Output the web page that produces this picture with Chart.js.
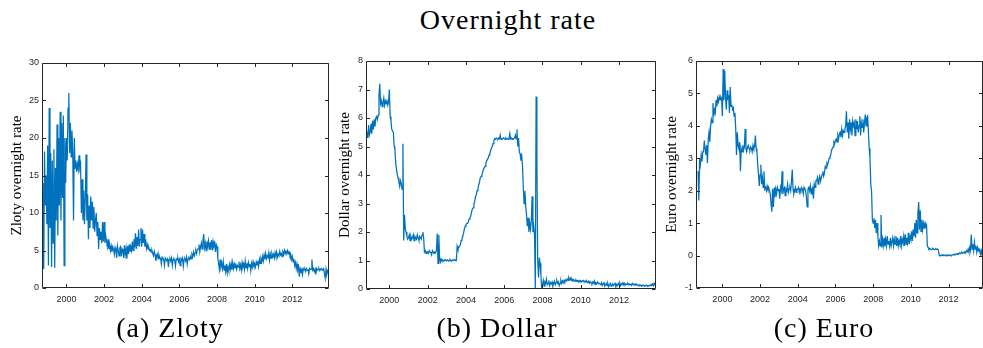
<!DOCTYPE html>
<html>
<head>
<meta charset="utf-8">
<script src="https://cdn.jsdelivr.net/npm/chart.js@4.4.1/dist/chart.umd.min.js"></script>
<style>
  html, body { margin: 0; padding: 0; background: #ffffff; }
  body { width: 983px; height: 348px; position: relative; overflow: hidden; }
  .panel { position: absolute; top: 40px; height: 275px; }
  .txt { position: absolute; font-family: "Liberation Serif", "Times New Roman", serif; font-size: 28px;
         line-height: 26px; color: #000; white-space: nowrap; transform: translateX(-50%); letter-spacing: 1px; }
</style>
</head>
<body>
<div class="txt" style="left:508px; top:7px;">Overnight rate</div>
<div class="panel" style="left:0px; width:329px;"><canvas id="c1" width="329" height="275"></canvas></div>
<div class="panel" style="left:324px; width:332px;"><canvas id="c2" width="332" height="275"></canvas></div>
<div class="panel" style="left:654px; width:329px;"><canvas id="c3" width="329" height="275"></canvas></div>
<div class="txt" style="left:170px; top:315px;">(a) Zloty</div>
<div class="txt" style="left:497px; top:315px;">(b) Dollar</div>
<div class="txt" style="left:824px; top:315px;">(c) Euro</div>

<script>
// Semi-monthly observations starting in the second half of September 1998.
const START_YEAR = 1998 + 17 / 24;
const STEP = 1 / 24;

// Tick labels on the time axis.
const yearTicks = [2000, 2002, 2004, 2006, 2008, 2010, 2012];

// Polish zloty overnight rate (%)
const zloty = [
  14, 7.5, 2.5, 18.2, 11, 15, 8.5,
  19, 3, 24, 8, 18, 2.8, 17, 6, 18.5, 2.7, 16, 9, 21.8, 7, 20, 11, 23.5, 9, 22, 12, 23, 3, 20, 14,
  20, 17, 24, 26, 18, 22, 17.5, 21, 18, 9, 20, 16, 17, 15.5, 16.5, 15.8, 17.7, 16, 16.5, 10, 14.5, 9, 13, 8.5,
  12, 17.8, 9, 12.5, 6.5, 11, 8, 12.2, 9, 11.5, 8, 10.8, 7.5, 9, 10, 7, 8.8, 5.2, 8, 6.5, 7.5, 6, 8.8, 6.2,
  8.8, 6, 7, 6.3, 5.5, 6.5, 5.2, 5.8, 5, 5.6, 4.8, 5.5, 5.2, 4.5, 5.4, 5, 4, 5.6, 5, 4.3, 5.3, 5.5, 4.2, 5.2,
  5, 4, 5.7, 4.5, 5.3, 3.9, 5.6, 4.5, 5.8, 4.8, 5.5, 5, 6.2, 5, 6.5, 5.4, 7.3, 5.2, 6.8, 5.6, 7.8, 5.5, 6.5, 8,
  5.5, 7.8, 6, 7.2, 5.5, 6.5, 5.3, 5.8, 5.2, 5.4, 5, 5.1, 4.8, 5, 4.6, 4.3, 4.9, 4.5, 3.6, 4.2, 4.5, 3.9, 4.4, 4,
  4, 3.2, 4.1, 3.9, 3.8, 3, 4, 3.8, 3.7, 3.9, 2.8, 3.8, 3.9, 3.6, 4, 3, 3.8, 3.9, 3.7, 2.9, 3.9, 3.8, 4, 3.5,
  3.8, 3, 3.9, 3.7, 4, 2.9, 3.8, 3.9, 3.6, 4.1, 3.2, 3.9, 4, 3.8, 4.2, 3.9, 4.5, 4.2, 4.8, 4.3, 4.7, 5, 4.6, 5.2,
  5.2, 5.8, 4.8, 5.5, 6, 5.2, 6.2, 7.2, 5.4, 6, 5, 6.2, 5.6, 6.3, 5.2, 6.1, 5.5, 6.4, 5, 6.2, 5.6, 6, 4.8, 5.8,
  5.5, 4, 3.2, 2.5, 3.8, 2.8, 3.3, 2.6, 3.5, 2.4, 3, 2.2, 3.2, 2, 2.8, 2.3, 3.1, 2.5, 3.3, 2.4, 3.4, 2.6, 3.2, 2.7,
  3.3, 2.5, 3, 2.8, 3.5, 2.6, 3.1, 2.4, 3.4, 2.8, 3.2, 2.5, 3.6, 2.7, 3.3, 2.6, 3.4, 2.9, 3.2, 2.3, 3.3, 2.8, 3.5, 3,
  3.2, 2.8, 3.5, 3.1, 3.6, 2.9, 3.8, 3.3, 3.9, 3.5, 4.2, 3.6, 4.4, 3.8, 4.6, 3.9, 4.3, 4.1, 4.7, 3.7, 4.5, 4, 4.6, 4.2,
  4.5, 4, 4.7, 4.2, 4.8, 4.1, 4.5, 4.3, 4.9, 4.4, 4.6, 4.2, 4.8, 4.5, 5, 4.6, 4.9, 4.7, 5, 4.6, 4.8, 4.3, 4.5, 3.8,
  4.2, 3.5, 3.9, 3, 3.4, 2.6, 3.2, 2.4, 2.8, 1.5, 2.6, 2.3, 2.5, 1.8, 2.6, 2.4, 2.5, 2.2, 2.6, 2.4, 2.5, 1.9, 2.6, 2.5,
  2.5, 3.8, 2.4, 2.6, 2.2, 2.5, 1.8, 2.6, 2.4, 2.5, 2.6, 2.3, 2.5, 2.6, 2.4, 2.5, 2.6, 1.9, 1.3, 2.5, 1.8, 2.2, 2.4, 2
];

// US dollar overnight rate (%)
const dollar = [
  5.2, 5.35, 5.25, 5.45, 5.3, 5.75, 5.4,
  5.5, 5.8, 5.45, 5.9, 5.6, 5.95, 5.7, 6.0, 6.05, 5.95, 6.1, 6.8, 7.2, 6.5, 6.6, 6.4, 6.55, 6.7, 6.45, 6.6, 6.5, 6.65, 6.45, 6.55,
  7.0, 6.05, 5.9, 5.6, 5.55, 5.5, 5.0, 4.9, 4.4, 4.2, 4.0, 3.9, 3.75, 3.6, 3.8, 3.7, 3.5, 5.1, 1.7, 2.6, 2.1, 2.0, 1.85, 1.75,
  1.8, 1.9, 1.7, 1.85, 1.75, 1.8, 1.9, 1.7, 1.85, 1.8, 1.75, 1.9, 1.8, 1.7, 1.85, 1.8, 1.75, 1.9, 2.0, 1.8, 1.3, 1.35, 1.25, 1.3,
  1.3, 1.25, 1.35, 1.3, 1.28, 1.2, 1.35, 1.3, 1.25, 1.3, 1.28, 1.35, 1.95, 0.9, 1.9, 1.1, 0.95, 1.05, 1.0, 1.02, 0.98, 1.0, 1.03, 1.0,
  1.0, 1.02, 0.98, 1.0, 1.03, 1.0, 0.98, 1.02, 1.0, 1.0, 1.03, 1.0, 1.0, 1.5, 1.4, 1.45, 1.5, 1.55, 1.7, 1.75, 1.85, 1.95, 2.1, 2.2,
  2.25, 2.3, 2.3, 2.35, 2.45, 2.5, 2.55, 2.7, 2.8, 2.85, 3.0, 3.05, 3.25, 3.3, 3.45, 3.5, 3.65, 3.75, 3.9, 3.95, 4.0, 4.1, 4.2, 4.25,
  4.3, 4.4, 4.5, 4.55, 4.6, 4.7, 4.75, 4.85, 4.95, 5.0, 5.1, 5.2, 5.27, 5.25, 5.3, 5.27, 5.25, 5.3, 5.27, 5.4, 5.25, 5.28, 5.27, 5.3,
  5.27, 5.25, 5.3, 5.27, 5.28, 5.25, 5.27, 5.45, 5.27, 5.3, 5.25, 5.28, 5.27, 5.3, 5.4, 5.27, 5.6, 5.0, 5.3, 4.8, 4.75, 4.5, 4.65, 4.3,
  3.5, 3.0, 3.45, 2.9, 2.6, 2.2, 2.5, 2.0, 2.3, 2.1, 2.4, 3.25, 2.0, 2.2, 1.9, 0.0, 6.75, 4.5, 1.0, 0.4, 1.1, 0.9, 0.5, 0.0,
  0.15, 0.3, 0.1, 0.25, 0.2, 0.35, 0.15, 0.2, 0.3, 0.12, 0.22, 0.18, 0.25, 0.1, 0.2, 0.28, 0.15, 0.22, 0.3, 0.2, 0.25, 0.12, 0.2, 0.3,
  0.2, 0.28, 0.22, 0.3, 0.25, 0.32, 0.28, 0.35, 0.3, 0.4, 0.33, 0.38, 0.3, 0.35, 0.28, 0.33, 0.3, 0.27, 0.32, 0.28, 0.3, 0.25, 0.3, 0.27,
  0.3, 0.25, 0.28, 0.3, 0.26, 0.27, 0.25, 0.3, 0.22, 0.25, 0.28, 0.2, 0.25, 0.22, 0.18, 0.25, 0.2, 0.28, 0.15, 0.22, 0.2, 0.25, 0.18, 0.2,
  0.2, 0.15, 0.22, 0.12, 0.18, 0.25, 0.1, 0.15, 0.2, 0.12, 0.18, 0.08, 0.15, 0.2, 0.1, 0.13, 0.18, 0.12, 0.15, 0.2, 0.1, 0.15, 0.12, 0.2,
  0.15, 0.2, 0.12, 0.18, 0.15, 0.22, 0.16, 0.2, 0.14, 0.18, 0.16, 0.2, 0.15, 0.18, 0.14, 0.17, 0.15, 0.2, 0.16, 0.14, 0.18, 0.15, 0.17, 0.14,
  0.14, 0.12, 0.15, 0.13, 0.1, 0.14, 0.12, 0.13, 0.1, 0.12, 0.14, 0.11, 0.12, 0.1, 0.13, 0.12, 0.15, 0.13, 0.18, 0.12, 0.2, 0.15, 0.08, 0.12
];

// Euro overnight rate (%)
const euro = [
  2.6, 1.7, 3.0, 2.8, 3.1, 2.9, 3.2,
  3.2, 3.55, 3.3, 3.1, 3.4, 2.85, 3.6, 3.8, 3.5, 4.0, 4.2, 4.1, 4.7, 4.3, 4.5, 4.4, 4.8, 4.6, 4.85, 4.75, 4.9, 4.8, 4.9, 4.85,
  4.3, 5.75, 4.8, 5.7, 4.9, 4.5, 5.1, 4.85, 4.9, 4.4, 5.2, 4.6, 4.65, 4.5, 4.55, 4.3, 4.4, 3.9, 3.1, 3.8, 3.4, 3.3, 3.5, 2.6,
  3.3, 3.2, 3.4, 3.25, 3.35, 3.9, 3.3, 3.2, 3.35, 3.4, 3.3, 3.25, 3.35, 3.3, 3.2, 3.4, 3.3, 3.35, 3.7, 3.3, 3.2, 2.8, 2.5, 2.15,
  2.5, 2.8, 2.2, 2.4, 2.1, 2.6, 2.05, 2.1, 2.0, 2.15, 2.05, 2.1, 2.0, 1.9, 1.6, 1.35, 2.05, 1.5, 2.1, 1.8, 2.05, 1.9, 2.1, 2.0,
  2.05, 1.75, 2.1, 2.0, 2.6, 1.9, 2.05, 2.1, 1.85, 2.05, 2.0, 2.2, 1.95, 2.05, 2.1, 2.0, 2.3, 2.65, 2.05, 1.9, 2.0, 2.1, 1.95, 2.05,
  2.05, 2.1, 1.95, 2.05, 2.0, 2.1, 2.05, 1.9, 2.1, 2.05, 2.0, 1.8, 1.5, 2.05, 2.1, 2.0, 2.15, 1.9, 2.05, 2.1, 1.75, 2.2, 2.1, 2.3,
  2.3, 2.4, 2.2, 2.35, 2.45, 2.3, 2.4, 2.5, 2.6, 2.45, 2.55, 2.75, 2.7, 2.85, 2.8, 2.9, 3.0, 3.05, 3.1, 3.25, 3.3, 3.35, 3.5, 3.45,
  3.55, 3.6, 3.5, 3.7, 3.6, 3.75, 3.8, 3.65, 3.9, 3.7, 3.85, 3.8, 3.9, 4.0, 4.45, 3.8, 4.1, 3.6, 4.2, 3.9, 4.1, 3.7, 4.15, 4.0,
  4.1, 3.7, 4.2, 3.9, 4.15, 3.8, 4.0, 4.3, 3.7, 4.1, 3.95, 4.2, 3.8, 4.1, 4.35, 4.0, 4.25, 4.3, 3.8, 3.3, 3.0, 2.2, 2.0, 1.1,
  1.0, 1.15, 0.85, 1.1, 0.7, 1.0, 0.6, 0.3, 0.45, 0.3, 1.25, 0.25, 0.5, 0.3, 0.55, 0.28, 0.5, 0.3, 0.6, 0.35, 0.45, 0.3, 0.55, 0.3,
  0.3, 0.55, 0.3, 0.5, 0.35, 0.6, 0.3, 0.55, 0.3, 0.45, 0.35, 0.6, 0.3, 0.5, 0.4, 0.6, 0.3, 0.65, 0.35, 0.55, 0.4, 0.7, 0.35, 0.6,
  0.5, 0.75, 0.45, 0.8, 0.6, 1.0, 0.55, 1.1, 0.7, 1.3, 1.65, 0.8, 1.4, 0.75, 1.1, 0.8, 1.0, 0.85, 1.05, 0.9, 0.95, 0.3, 0.25, 0.2,
  0.22, 0.2, 0.18, 0.2, 0.22, 0.2, 0.18, 0.2, 0.21, 0.19, 0.2, 0.18, 0.02, 0.0, 0.01, 0.0, 0.02, 0.0, 0.01, 0.0, 0.02, 0.01, 0.0, 0.02,
  0.0, 0.01, 0.02, 0.0, 0.01, 0.02, 0.03, 0.02, 0.04, 0.03, 0.05, 0.04, 0.06, 0.05, 0.08, 0.06, 0.08, 0.1, 0.07, 0.1, 0.08, 0.12, 0.1, 0.15,
  0.12, 0.2, 0.1, 0.25, 0.15, 0.65, 0.2, 0.35, 0.15, 0.4, 0.2, 0.3, 0.1, 0.25, 0.15, 0.2, 0.1, 0.05, 0.15, -0.02, -0.05, -0.1, -0.05, -0.1
];

const dates = zloty.map((_, i) => START_YEAR + i * STEP);

const LINE_BLUE = '#0072BD';
const AXIS_GREY = '#262626';

// MATLAB-style box: frame on all four sides with inward tick marks.
const boxAxes = {
  id: 'boxAxes',
  afterDraw(chart) {
    const { ctx, chartArea: a, scales } = chart;
    const L = Math.round(a.left) + 0.5, R = Math.round(a.right) - 0.5;
    const T = Math.round(a.top) + 0.5, B = Math.round(a.bottom) - 0.5;
    const tl = 3.5;
    ctx.save();
    ctx.strokeStyle = AXIS_GREY;
    ctx.lineWidth = 1;
    ctx.beginPath();
    ctx.rect(L, T, R - L, B - T);
    scales.x.ticks.forEach(t => {
      const px = Math.round(scales.x.getPixelForValue(t.value)) + 0.5;
      ctx.moveTo(px, B); ctx.lineTo(px, B - tl);
      ctx.moveTo(px, T); ctx.lineTo(px, T + tl);
    });
    scales.y.ticks.forEach(t => {
      const py = Math.round(scales.y.getPixelForValue(t.value)) + 0.5;
      ctx.moveTo(L, py); ctx.lineTo(L + tl, py);
      ctx.moveTo(R, py); ctx.lineTo(R - tl, py);
    });
    ctx.stroke();
    ctx.restore();
  }
};

function makePanel(id, values, yLabel, yMin, yMax, yStep, xMin, xMax, padTop, xAxisHeight, titlePad) {
  new Chart(document.getElementById(id), {
    type: 'line',
    data: {
      datasets: [{
        data: values.map((v, i) => ({ x: dates[i], y: v })),
        borderColor: LINE_BLUE,
        borderWidth: 1.25,
        pointRadius: 0,
        tension: 0,
        fill: false
      }]
    },
    options: {
      responsive: false,
      animation: false,
      devicePixelRatio: 1,
      layout: { padding: { top: padTop, left: 0, right: 0, bottom: 0 } },
      plugins: { legend: { display: false }, tooltip: { enabled: false } },
      scales: {
        x: {
          type: 'linear',
          min: xMin,
          max: xMax,
          grid: { display: false, drawTicks: false },
          border: { display: false },
          afterBuildTicks: s => { s.ticks = yearTicks.map(v => ({ value: v })); },
          afterFit: s => { s.height = xAxisHeight; },
          ticks: {
            autoSkip: false, maxRotation: 0, padding: 6,
            color: AXIS_GREY,
            font: { family: 'Liberation Sans', size: 9 },
            callback: v => String(v)
          }
        },
        y: {
          min: yMin,
          max: yMax,
          grid: { display: false, drawTicks: false },
          border: { display: false },
          afterFit: s => { s.width = 42; },
          ticks: {
            stepSize: yStep, padding: 3,
            color: AXIS_GREY,
            font: { family: 'Liberation Sans', size: 9 }
          },
          title: {
            display: true,
            text: yLabel,
            color: '#000',
            padding: { top: titlePad, bottom: 0 },
            font: { family: 'Liberation Serif', size: 15, weight: 'normal' }
          }
        }
      }
    },
    plugins: [boxAxes]
  });
}

makePanel('c1', zloty,  'Zloty overnight rate',  0, 30, 5, 1998.70, 2013.95, 23, 27, 8);
makePanel('c2', dollar, 'Dollar overnight rate', 0, 8, 1, 1998.78, 2013.93, 21, 26, 12);
makePanel('c3', euro,   'Euro overnight rate',  -1, 6, 1, 1998.60, 2013.83, 21, 27, 9);
</script>
</body>
</html>
